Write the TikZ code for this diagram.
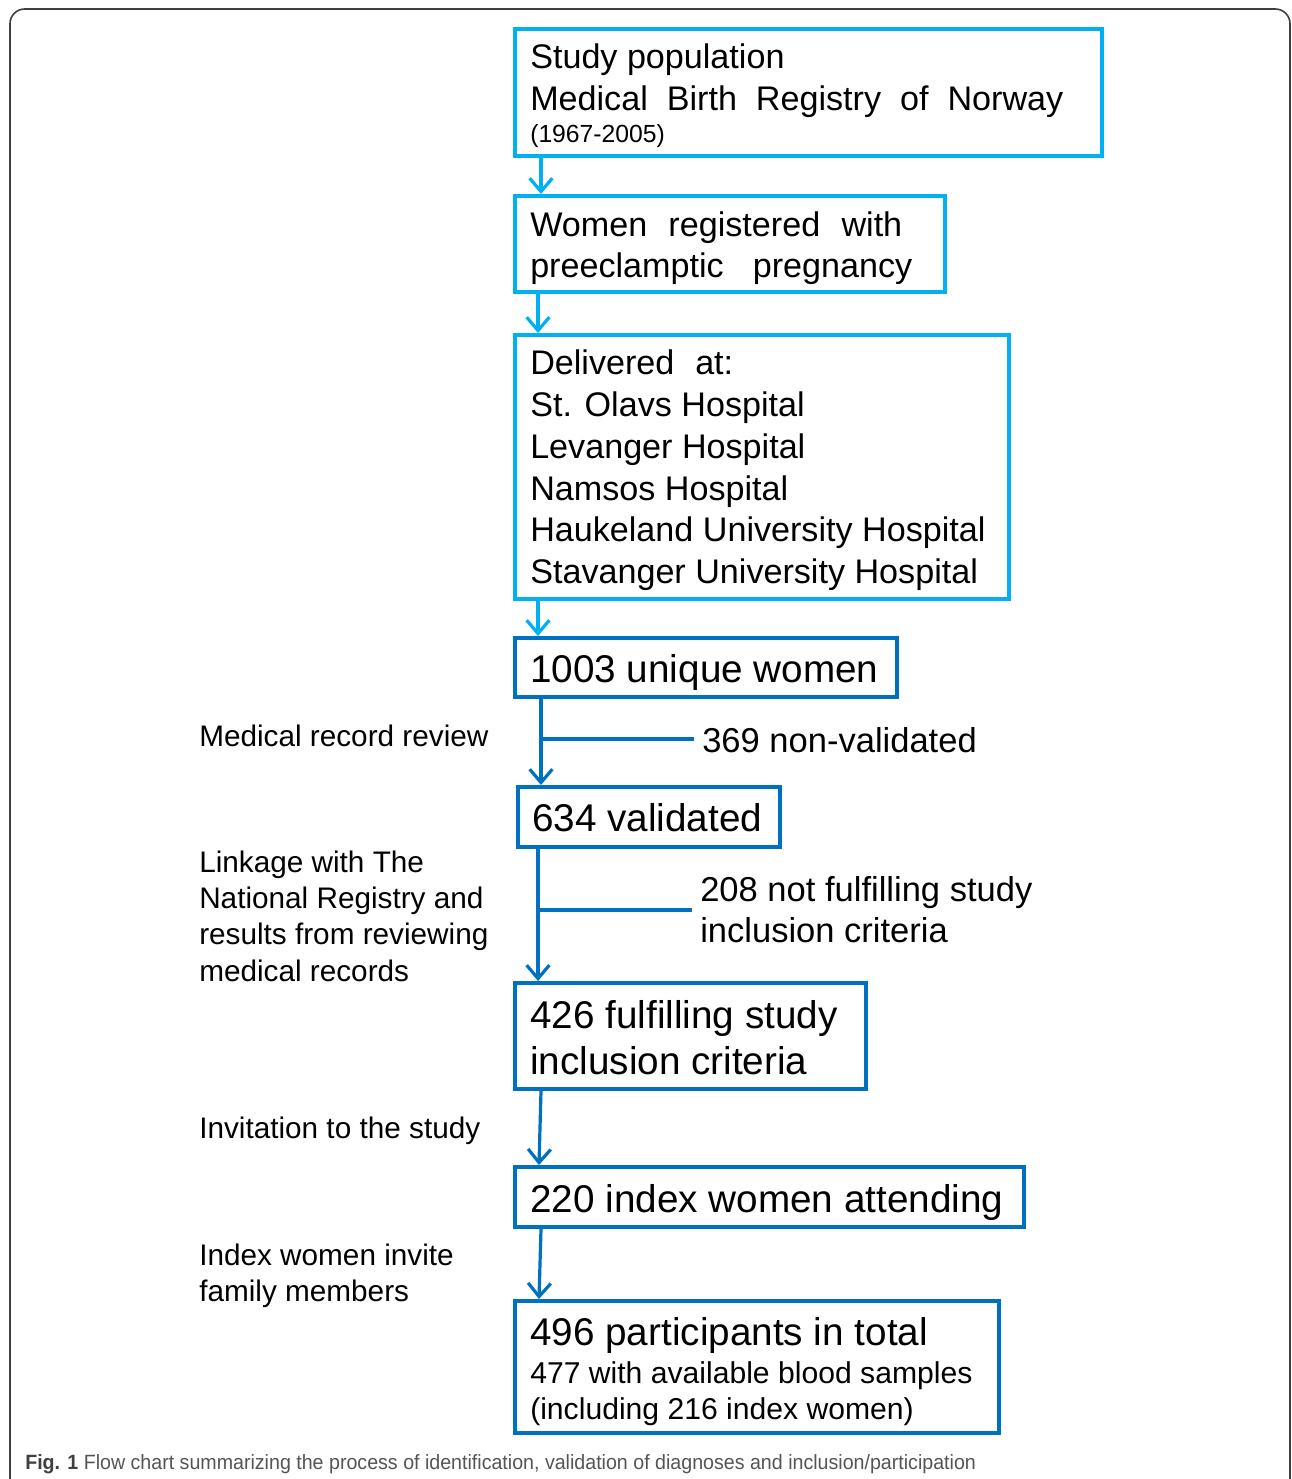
\documentclass[tikz,border=0pt]{standalone}
\usepackage{fontspec}
\usepackage{graphicx}
\setmainfont{Liberation Sans}
\usetikzlibrary{arrows.meta,fit,calc}
\definecolor{cyanb}{HTML}{00B0F0}
\definecolor{darkb}{HTML}{0070C0}
\definecolor{framegray}{HTML}{404040}
\definecolor{capgray}{HTML}{555555}
\newcommand\fsmain{\fontsize{25.6pt}{30pt}\selectfont}
\newcommand\fsbig{\fontsize{29pt}{34pt}\selectfont}
\newcommand\fsside{\fontsize{22.3pt}{27pt}\selectfont}
\newcommand\fsexcl{\fontsize{25.9pt}{30pt}\selectfont}
\newcommand\fsnote{\fontsize{22.6pt}{27pt}\selectfont}
\newcommand\fsyear{\fontsize{18.6pt}{22pt}\selectfont}
\newcommand\fscap{\fontsize{15.5pt}{18pt}\selectfont}
\tikzset{
  cbox/.style={draw=cyanb, line width=3pt, inner sep=0pt},
  dbox/.style={draw=darkb, line width=3pt, inner sep=0pt},
  carr/.style={draw=cyanb, line width=2.4pt, -{Straight Barb[length=10pt,width=17pt]}},
  darr/.style={draw=darkb, line width=2.4pt, -{Straight Barb[length=10pt,width=17pt]}},
  dline/.style={draw=darkb, line width=2.4pt},
  txt/.style={anchor=base west, inner sep=0pt, text=black},
  frame/.style={draw=framegray, line width=1.2pt, rounded corners=11pt}
}
\begin{document}
\begin{tikzpicture}[x=0.75pt, y=-0.75pt]
\useasboundingbox (0,0) rectangle (1292,1479);
\clip (0,0) rectangle (1292,1479);
\fill[white] (0,0) rectangle (1292,1479);
\draw[frame] (10,9) rectangle (1290,1540);

% boxes
\node[cbox, fit={(515,29)(1102,156)}] (b1) {};
\node[cbox, fit={(515,196)(945,292)}] (b2) {};
\node[cbox, fit={(515,335)(1009,599)}] (b3) {};
\node[dbox, fit={(515,638)(897,697)}] (b4) {};
\node[dbox, fit={(518,787)(780,847)}] (b5) {};
\node[dbox, fit={(515,983)(866,1089)}] (b6) {};
\node[dbox, fit={(515,1167)(1024,1227)}] (b7) {};
\node[dbox, fit={(515,1301)(999,1433)}] (b8) {};

% box texts
\node[txt, font=\fsmain] (t1a) at (530,68) {Study population};
\node[txt, font=\fsmain] (t1b) at (530,110) {\makebox[399.75pt][s]{Medical Birth Registry of Norway}};
\node[txt, font=\fsyear] (t1c) at (530,142) {\resizebox{101pt}{\height}{(1967-2005)}};

\node[txt, font=\fsmain] (t2a) at (530,236) {\makebox[279pt][s]{Women registered with}};
\node[txt, font=\fsmain] (t2b) at (530,277) {\makebox[286.5pt][s]{preeclamptic pregnancy}};

\node[txt, font=\fsmain] (t3a) at (530,374) {\makebox[152.25pt][s]{Delivered at:}};
\node[txt, font=\fsmain] (t3b) at (530,416) {St. Olavs Hospital};
\node[txt, font=\fsmain] (t3c) at (530,458) {Levanger Hospital};
\node[txt, font=\fsmain] (t3d) at (530,500) {Namsos Hospital};
\node[txt, font=\fsmain] (t3e) at (530,541) {Haukeland University Hospital};
\node[txt, font=\fsmain] (t3f) at (530,583) {Stavanger University Hospital};

\node[txt, font=\fsbig] (t4) at (530,682) {1003 unique women};
\node[txt, font=\fsbig] (t5) at (532,831) {634 validated};
\node[txt, font=\fsbig] (t6a) at (530,1028) {426 fulfilling study};
\node[txt, font=\fsbig] (t6b) at (530,1074) {inclusion criteria};
\node[txt, font=\fsbig] (t7) at (530,1212) {220 index women attending};
\node[txt, font=\fsbig] (t8a) at (530,1345) {496 participants in total};
\node[txt, font=\fsnote] (t8b) at (530,1383) {477 with available blood samples};
\node[txt, font=\fsnote] (t8c) at (530,1419) {(including 216 index women)};

% side labels
\node[txt, font=\fsside] (s1) at (199,746) {Medical record review};
\node[txt, font=\fsside] (s2a) at (199,872) {Linkage with The};
\node[txt, font=\fsside] (s2b) at (199,908) {National Registry and};
\node[txt, font=\fsside] (s2c) at (199,944) {results from reviewing};
\node[txt, font=\fsside] (s2d) at (199,981) {medical records};
\node[txt, font=\fsside] (s3) at (199,1138) {Invitation to the study};
\node[txt, font=\fsside] (s4a) at (199,1265) {Index women invite};
\node[txt, font=\fsside] (s4b) at (199,1301) {family members};

% exclusion labels
\node[txt, font=\fsexcl] (e1) at (702,752) {369 non-validated};
\node[txt, font=\fsexcl] (e2a) at (700,901) {208 not fulfilling study};
\node[txt, font=\fsexcl] (e2b) at (700,942) {inclusion criteria};

% connectors
\draw[carr] ($(b1.south west)+(28,0)$) -- ($(b2.north west)+(28,0)$);
\draw[carr] ($(b2.south west)+(25,0)$) -- ($(b3.north west)+(25,0)$);
\draw[carr] ($(b3.south west)+(25,0)$) -- ($(b4.north west)+(25,0)$);
\draw[darr] ($(b4.south west)+(28,0)$) -- ($(b5.north west)+(25,0)$);
\draw[darr] ($(b5.south west)+(22,0)$) -- ($(b6.north west)+(25,0)$);
\draw[darr] ($(b6.south west)+(28,0)$) -- ($(b7.north west)+(26,0)$);
\draw[darr] ($(b7.south west)+(28,0)$) -- ($(b8.north west)+(26,0)$);

\coordinate (j1) at (541,739);
\coordinate (j2) at (538,910);
\draw[dline] (j1) -- ([xshift=-6pt]e1.west |- j1);
\draw[dline] (j2) -- ([xshift=-6pt]e2a.west |- j2);

% caption
\node[anchor=base west, inner sep=0pt, text=capgray, font=\fscap] (cap) at (25,1469)
  {\resizebox{713pt}{\height}{\textcolor{framegray}{\textbf{Fig. 1}} Flow chart summarizing the process of identification, validation of diagnoses and inclusion/participation}};
\end{tikzpicture}
\end{document}
